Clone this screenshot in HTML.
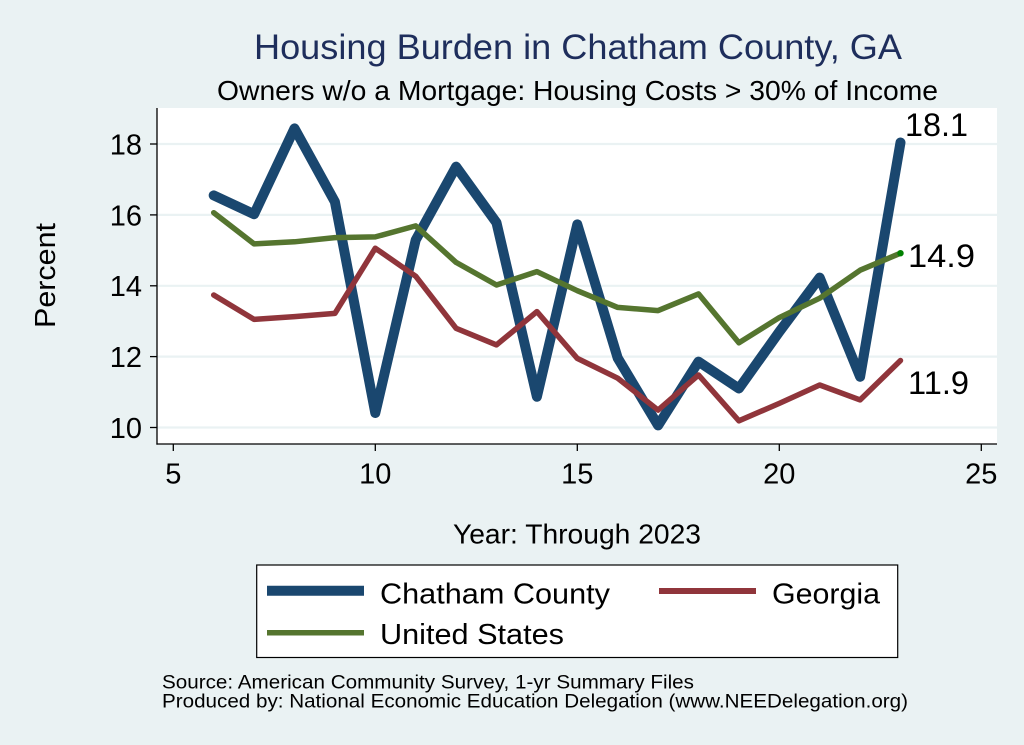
<!DOCTYPE html>
<html>
<head>
<meta charset="utf-8">
<style>
  html,body{margin:0;padding:0;background:#eaf2f3;}
  svg{display:block;}
  text{font-family:"Liberation Sans", Arial, sans-serif;}
</style>
</head>
<body>
<svg width="1024" height="745" viewBox="0 0 1024 745" xmlns="http://www.w3.org/2000/svg">
  <rect x="0" y="0" width="1024" height="745" fill="#eaf2f3"/>
  <!-- plot region -->
  <rect x="157" y="108" width="840" height="336" fill="#ffffff"/>
  <!-- grid lines -->
  <g stroke="#eaf2f3" stroke-width="2.2">
    <line x1="157" y1="427.5" x2="997" y2="427.5"/>
    <line x1="157" y1="356.6" x2="997" y2="356.6"/>
    <line x1="157" y1="285.8" x2="997" y2="285.8"/>
    <line x1="157" y1="214.9" x2="997" y2="214.9"/>
    <line x1="157" y1="144" x2="997" y2="144"/>
  </g>
  <!-- axes -->
  <g stroke="#000" stroke-width="1.3">
    <line x1="157" y1="108" x2="157" y2="444.6"/>
    <line x1="156.4" y1="444" x2="997" y2="444"/>
    <line x1="150" y1="427.5" x2="157" y2="427.5"/>
    <line x1="150" y1="356.6" x2="157" y2="356.6"/>
    <line x1="150" y1="285.8" x2="157" y2="285.8"/>
    <line x1="150" y1="214.9" x2="157" y2="214.9"/>
    <line x1="150" y1="144" x2="157" y2="144"/>
    <line x1="173.3" y1="444" x2="173.3" y2="451"/>
    <line x1="375.3" y1="444" x2="375.3" y2="451"/>
    <line x1="577.3" y1="444" x2="577.3" y2="451"/>
    <line x1="779.3" y1="444" x2="779.3" y2="451"/>
    <line x1="981.3" y1="444" x2="981.3" y2="451"/>
  </g>
  <!-- y tick labels -->
  <g font-size="29" text-anchor="end" fill="#000">
    <text x="142" y="438">10</text>
    <text x="142" y="367">12</text>
    <text x="142" y="296">14</text>
    <text x="142" y="225.5">16</text>
    <text x="142" y="154.5">18</text>
  </g>
  <!-- x tick labels -->
  <g font-size="29" text-anchor="middle" fill="#000">
    <text x="173.3" y="483.5">5</text>
    <text x="375.3" y="483.5">10</text>
    <text x="577.3" y="483.5">15</text>
    <text x="779.3" y="483.5">20</text>
    <text x="981.3" y="483.5">25</text>
  </g>
  <!-- series -->
  <polyline fill="none" stroke="#1a476f" stroke-width="10" stroke-linejoin="round" stroke-linecap="round"
    points="213.7,195.4 254.1,214.2 294.5,128.4 334.9,201.8 375.3,413.0 415.7,240.0 456.1,166.7 496.5,222.7 536.9,396.7 577.3,224.4 617.7,358.0 658.1,425.4 698.5,361.6 738.9,388.5 779.3,331.8 819.7,277.6 860.1,376.8 900.5,142.5"/>
  <polyline fill="none" stroke="#90353b" stroke-width="5.5" stroke-linejoin="round" stroke-linecap="round"
    points="213.7,295.0 254.1,319.4 294.5,316.6 334.9,313.4 375.3,248.2 415.7,276.2 456.1,328.3 496.5,344.9 536.9,311.6 577.3,358.4 617.7,378.2 658.1,410.1 698.5,375.0 738.9,420.8 779.3,403.4 819.7,385.0 860.1,399.9 900.5,360.5"/>
  <polyline fill="none" stroke="#55752f" stroke-width="5.5" stroke-linejoin="round" stroke-linecap="round"
    points="213.7,212.7 254.1,243.9 294.5,241.8 334.9,237.6 375.3,236.9 415.7,225.9 456.1,262.4 496.5,285.0 536.9,271.6 577.3,290.7 617.7,307.4 658.1,310.6 698.5,293.9 738.9,342.8 779.3,317.6 819.7,298.2 860.1,270.2 900.5,253.2"/>
  <circle cx="900.5" cy="253.2" r="3.2" fill="#008000"/>
  <!-- end labels -->
  <g font-size="32" fill="#000">
    <text x="905" y="136" textLength="63" lengthAdjust="spacingAndGlyphs">18.1</text>
    <text x="908" y="267" textLength="67" lengthAdjust="spacingAndGlyphs">14.9</text>
    <text x="908" y="394" textLength="61" lengthAdjust="spacingAndGlyphs">11.9</text>
  </g>
  <!-- titles -->
  <text x="254" y="59" font-size="35.5" fill="#1e2e5c" textLength="648" lengthAdjust="spacingAndGlyphs">Housing Burden in Chatham County, GA</text>
  <text x="217" y="100" font-size="28" fill="#000" textLength="721" lengthAdjust="spacingAndGlyphs">Owners w/o a Mortgage: Housing Costs &gt; 30% of Income</text>
  <!-- axis titles -->
  <text transform="translate(55,275.5) rotate(-90)" text-anchor="middle" font-size="29" fill="#000" textLength="105" lengthAdjust="spacingAndGlyphs">Percent</text>
  <text x="453" y="543.3" font-size="28" fill="#000" textLength="248" lengthAdjust="spacingAndGlyphs">Year: Through 2023</text>
  <!-- legend -->
  <rect x="256.7" y="565" width="641" height="92.5" fill="#ffffff" stroke="#000" stroke-width="1.2"/>
  <line x1="267" y1="590.7" x2="364" y2="590.7" stroke="#1a476f" stroke-width="10"/>
  <line x1="659" y1="591" x2="756" y2="591" stroke="#90353b" stroke-width="6"/>
  <line x1="267" y1="632.7" x2="364" y2="632.7" stroke="#55752f" stroke-width="5.5"/>
  <g font-size="29" fill="#000">
    <text x="380" y="603.3" textLength="230" lengthAdjust="spacingAndGlyphs">Chatham County</text>
    <text x="772" y="603.3" textLength="108" lengthAdjust="spacingAndGlyphs">Georgia</text>
    <text x="380" y="644" textLength="184" lengthAdjust="spacingAndGlyphs">United States</text>
  </g>
  <!-- source notes -->
  <g font-size="19.5" fill="#000">
    <text x="162" y="688.5" textLength="532" lengthAdjust="spacingAndGlyphs">Source: American Community Survey, 1-yr Summary Files</text>
    <text x="162" y="707.5" textLength="746" lengthAdjust="spacingAndGlyphs">Produced by: National Economic Education Delegation (www.NEEDelegation.org)</text>
  </g>
</svg>
</body>
</html>
